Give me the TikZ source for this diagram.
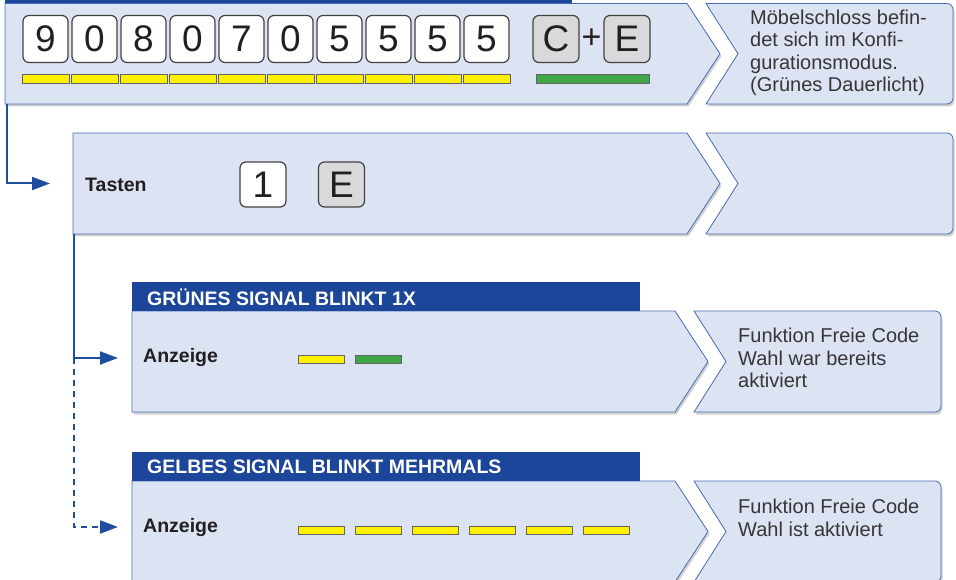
\documentclass[tikz,border=0pt]{standalone}
\usepackage{fontspec}
\setmainfont{Liberation Sans}
\usetikzlibrary{arrows.meta,shadows}

\definecolor{panelfill}{RGB}{220,227,242}
\definecolor{panelline}{RGB}{70,108,180}
\definecolor{headblue}{RGB}{27,70,153}
\definecolor{connblue}{RGB}{30,78,160}
\definecolor{barylw}{RGB}{255,240,0}
\definecolor{bargrn}{RGB}{64,168,74}
\definecolor{keygrey}{RGB}{217,217,219}
\definecolor{textdark}{RGB}{35,31,32}

\tikzset{
  panel/.style={fill=panelfill, draw=panelline, line width=0.8pt,
    drop shadow={shadow xshift=1.5pt, shadow yshift=-2.5pt, opacity=0.3, fill=black!60}},
  header/.style={fill=headblue, draw=none},
  headtext/.style={anchor=west, text=white, inner sep=0pt, font=\bfseries\fontsize{19.5}{20}\selectfont},
  labeltext/.style={anchor=west, text=textdark, inner sep=0pt, font=\bfseries\fontsize{19.5}{20}\selectfont},
  infotext/.style={anchor=north west, align=left, text=textdark!90, inner sep=0pt, font=\fontsize{20}{22.5}\selectfont},
  keybtn/.style={draw=textdark!85, fill=white, rounded corners=6pt, line width=1.2pt,
    minimum width=45pt, minimum height=47pt, inner sep=0pt, text=textdark,
    font=\fontsize{37}{37}\selectfont},
  lamp/.style={draw=textdark!70, line width=0.8pt, inner sep=0pt, minimum width=47pt, minimum height=9pt},
  conn/.style={draw=connblue, line width=2pt, -{Triangle[length=18pt,width=13pt]}}
}

% one row: left box with arrow point, right box with notch
\newcommand{\zeile}[5]{% #1 name, #2 left x, #3 top, #4 bottom, #5 corner x
  \path[panel] (#2,#3) -- (#5,#3) -- ({#5+33},{(#3+#4)/2}) -- (#5,#4) -- (#2,#4) -- cycle;
  \path[panel] ({#5+90},#3) [rounded corners=6pt] -- ({#5+266},#3) -- ({#5+266},#4)
    -- ({#5+90},#4) -- ({#5+80},#4) [sharp corners] -- ({#5+19},#4)
    -- ({#5+51},{(#3+#4)/2}) -- ({#5+19},#3) -- cycle;
  \coordinate (#1sw) at (#2,#4);
}

\begin{document}
\begin{tikzpicture}[x=1pt,y=-1pt]
\useasboundingbox (0,0) rectangle (956,580);
\clip (0,0) rectangle (956,580);

% panels
\zeile{z1}{5}{3.5}{104}{687}
\zeile{z2}{73}{133}{234}{687}
\zeile{z3}{132}{311}{412}{675}
\zeile{z4}{132}{481}{582}{675}

% headers
\fill[header] (5,-20) rectangle (572,3.5);
\fill[header] (132,282) rectangle (640,311);
\fill[header] (132,452) rectangle (640,481);
\node[headtext] (h3) at (147,297) {GRÜNES SIGNAL BLINKT 1X};
\node[headtext] (h4) at (147,467) {GELBES SIGNAL BLINKT MEHRMALS};

% connectors
\coordinate (tip2) at (50,183.5);
\coordinate (tip3) at (118,358);
\coordinate (tip4) at (118,527);
\coordinate (split) at (74,358);
\draw[conn] ([xshift=1.5pt]z1sw) |- (tip2);
\draw[conn] ([xshift=1pt]z2sw) |- (tip3);
\draw[conn, dash pattern=on 6pt off 5pt] (split) |- (tip4);

% row 1: code entry
\foreach \d [count=\i from 0] in {9,0,8,0,7,0,5,5,5,5} {
  \node[keybtn] (k\i) at ({45.5+49*\i},39) {\d};
  \node[lamp, fill=barylw] (y\i) at ({45.5+49*\i},78.5) {};
}
\node[keybtn, fill=keygrey, minimum width=46pt] (kc) at (556,39) {C};
\node[text=textdark, inner sep=0pt, font=\fontsize{34}{34}\selectfont] (plus) at (591.5,39) {+};
\node[keybtn, fill=keygrey, minimum width=46pt] (ke) at (627,39) {E};
\node[lamp, fill=bargrn, minimum width=113pt] (g1) at (592.5,78.5) {};
\node[infotext] (info1) at (750,9.5) {Möbelschloss befin-\\det sich im Konfi-\\gurationsmodus.\\(Grünes Dauerlicht)};

% row 2: keys
\node[labeltext] (tasten) at (85,184.5) {Tasten};
\node[keybtn, minimum width=46pt, minimum height=45pt] (k1) at (263,184.5) {1};
\node[keybtn, fill=keygrey, minimum width=46pt, minimum height=45pt] (k2) at (341.5,184.5) {E};

% row 3: green once
\node[labeltext] (anz3) at (143,358) {Anzeige};
\node[lamp, fill=barylw, minimum width=46pt, minimum height=7.5pt] (y31) at (321,359.5) {};
\node[lamp, fill=bargrn, minimum width=46pt, minimum height=7.5pt] (g31) at (378.5,359.5) {};
\node[infotext] (info3) at (738,328) {Funktion Freie Code\\Wahl war bereits\\aktiviert};

% row 4: yellow several times
\node[labeltext] (anz4) at (143,527) {Anzeige};
\foreach \i in {0,...,5}
  \node[lamp, fill=barylw, minimum width=46pt, minimum height=7.5pt] (y4\i) at ({321+57*\i},530.5) {};
\node[infotext] (info4) at (738,499) {Funktion Freie Code\\Wahl ist aktiviert};
\end{tikzpicture}
\end{document}
